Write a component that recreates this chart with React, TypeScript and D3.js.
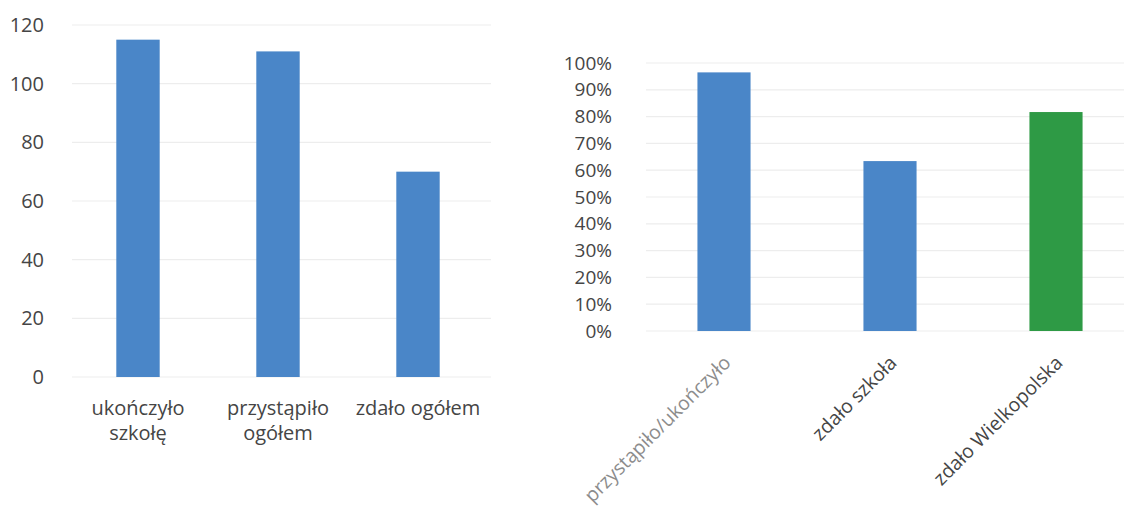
import * as d3 from "d3";
import React from "react";

// left chart: counts
const leftCategories = ["ukończyło szkołę", "przystąpiło ogółem", "zdało ogółem"];
const leftLabelLines = [["ukończyło", "szkołę"], ["przystąpiło", "ogółem"], ["zdało ogółem"]];
const leftValues = [115, 111, 70];
const leftTicks = [0, 20, 40, 60, 80, 100, 120];

// right chart: shares
const rightCategories = ["przystąpiło/ukończyło", "zdało szkoła", "zdało Wielkopolska"];
const rightValues = [0.965, 0.634, 0.817];
const rightTicks = [0, 0.1, 0.2, 0.3, 0.4, 0.5, 0.6, 0.7, 0.8, 0.9, 1];

const W = 1124;
const H = 510;
const font = "'Open Sans', 'Noto Sans', sans-serif";
const textColor = "#454545";
const gridColor = "#ededed";
const blue = "#4a86c8";
const green = "#2e9a45";
const rightColors = [blue, blue, green];
const rightLabelColors = ["#8c8c8c", textColor, textColor];

function App() {
  // scales for the left chart
  const lx = d3
    .scaleBand()
    .domain(leftCategories)
    .range([68, 488])
    .paddingInner(0.69)
    .paddingOuter(0.345);
  const ly = d3.scaleLinear().domain([0, 120]).range([377, 25]);

  // scales for the right chart
  const rx = d3
    .scaleBand()
    .domain(rightCategories)
    .range([641, 1139])
    .paddingInner(0.68)
    .paddingOuter(0.34);
  const ry = d3.scaleLinear().domain([0, 1]).range([331, 63]);
  const pct = d3.format(".0%");

  return (
    <svg
      width={W}
      height={H}
      style={{ position: "absolute", left: 0, top: 0, background: "#fff" }}
      fontFamily={font}
    >
      <rect width={W} height={H} fill="#fff" />

      {/* left chart */}
      <g>
        {leftTicks.map((t) => (
          <g key={t}>
            <line x1={lx.range()[0] + 4} x2={lx.range()[1] + 3} y1={ly(t)} y2={ly(t)} stroke={gridColor} strokeWidth={1.2} />
            <text x={44} y={ly(t)} dy="0.35em" textAnchor="end" fontSize={20} fill={textColor}>
              {t}
            </text>
          </g>
        ))}
        {leftCategories.map((c, i) => (
          <rect
            key={c}
            x={lx(c)}
            y={ly(leftValues[i])}
            width={lx.bandwidth()}
            height={ly(0) - ly(leftValues[i])}
            fill={blue}
          />
        ))}
        {leftCategories.map((c, i) => (
          <text
            key={c}
            x={(lx(c) as number) + lx.bandwidth() / 2}
            y={415}
            textAnchor="middle"
            fontSize={20}
            fill={textColor}
          >
            {leftLabelLines[i].map((line, j) => (
              <tspan key={j} x={(lx(c) as number) + lx.bandwidth() / 2} dy={j === 0 ? 0 : 25}>
                {line}
              </tspan>
            ))}
          </text>
        ))}
      </g>

      {/* right chart */}
      <g>
        {rightTicks.map((t) => (
          <g key={t}>
            <line x1={646} x2={W} y1={ry(t)} y2={ry(t)} stroke={gridColor} strokeWidth={1.2} />
            <text x={612} y={ry(t)} dy="0.35em" textAnchor="end" fontSize={19} fill={textColor}>
              {pct(t)}
            </text>
          </g>
        ))}
        {rightCategories.map((c, i) => (
          <rect
            key={c}
            x={rx(c)}
            y={ry(rightValues[i])}
            width={rx.bandwidth()}
            height={ry(0) - ry(rightValues[i])}
            fill={rightColors[i]}
          />
        ))}
        {rightCategories.map((c, i) => {
          const cx = (rx(c) as number) + rx.bandwidth() / 2;
          return (
            <text
              key={c}
              transform={`translate(${cx + 8},${364}) rotate(-45)`}
              textAnchor="end"
              fontSize={19.5}
              fill={rightLabelColors[i]}
            >
              {c}
            </text>
          );
        })}
      </g>
    </svg>
  );
}

export default App;
